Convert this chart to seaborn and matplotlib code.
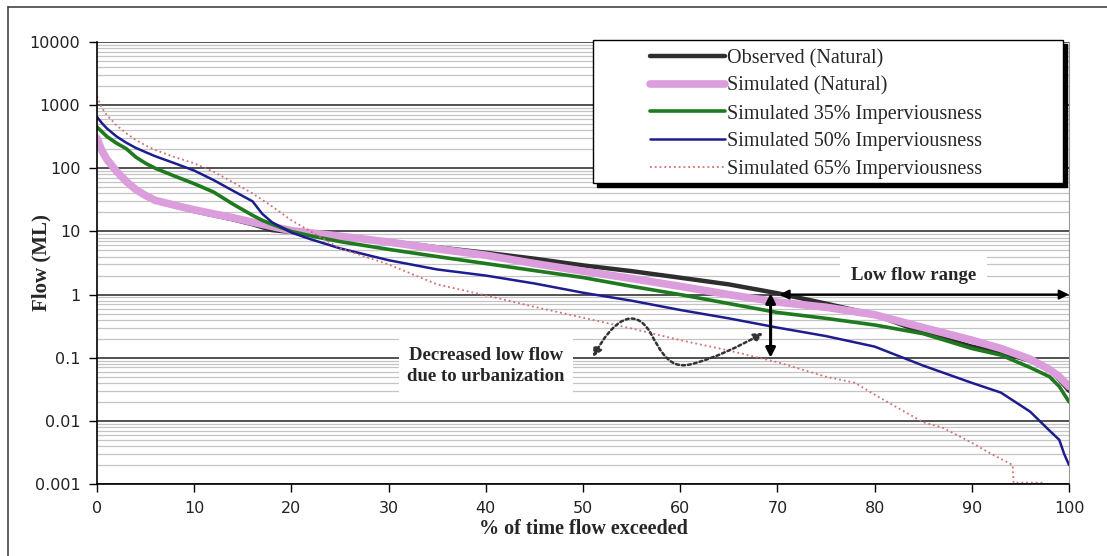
import numpy as np
import pandas as pd
import seaborn as sns
import matplotlib.pyplot as plt
from matplotlib.patches import Rectangle, FancyArrowPatch
from matplotlib.path import Path
from matplotlib.lines import Line2D
from matplotlib.ticker import FixedLocator, LogLocator, NullFormatter

# flow duration curves, % of time flow exceeded vs flow (ML)
obs_x = [0, 0.5, 1, 2, 3, 4, 5, 6, 8, 10, 12, 14, 16, 18, 20, 22, 25, 30, 35, 40, 45, 50,
         55, 60, 65, 70, 75, 80, 85, 90, 93, 96, 98, 99, 100]
obs_y = [280, 180, 130, 85, 60, 45, 36, 30, 25, 21, 18, 15.5, 13, 10.5, 9.8, 9.3, 8.3, 7.0,
         5.6, 4.6, 3.7, 2.9, 2.35, 1.85, 1.45, 1.05, 0.72, 0.48, 0.25, 0.15, 0.12, 0.09,
         0.065, 0.045, 0.03]

nat_x = [0, 0.5, 1, 2, 3, 4, 5, 6, 8, 10, 12, 14, 16, 18, 20, 22, 25, 30, 35, 40, 45, 50,
         55, 60, 65, 70, 75, 80, 85, 90, 93, 96, 98, 99, 100]
nat_y = [300, 190, 140, 90, 62, 46, 37, 31, 26, 22, 19, 16.5, 14, 12, 10.3, 9.5, 8.4, 6.8,
         5.3, 4.2, 3.1, 2.35, 1.8, 1.35, 1.0, 0.76, 0.63, 0.48, 0.3, 0.19, 0.14, 0.095,
         0.065, 0.05, 0.035]

imp35_x = [0, 0.5, 1, 2, 3, 4, 5, 6, 8, 10, 12, 14, 16, 17, 18, 20, 22, 25, 30, 35, 40, 45,
           50, 55, 60, 65, 70, 75, 80, 85, 90, 93, 96, 98, 99, 100]
imp35_y = [450, 380, 320, 250, 205, 150, 120, 100, 75, 57, 42, 27, 18, 15, 13, 10, 8.5, 6.9,
           5.2, 4.0, 3.1, 2.4, 1.86, 1.35, 1.0, 0.72, 0.52, 0.42, 0.33, 0.24, 0.14, 0.11,
           0.07, 0.05, 0.035, 0.02]

imp50_x = [0, 0.5, 1, 2, 3, 4, 5, 6, 8, 10, 12, 14, 16, 17, 18, 20, 22, 25, 30, 35, 40, 45,
           50, 55, 60, 65, 70, 75, 80, 85, 90, 93, 96, 98, 99, 99.5, 100]
imp50_y = [650, 520, 430, 320, 255, 210, 180, 155, 120, 92, 65, 44, 30, 19, 14, 9.6, 7.5,
           5.4, 3.5, 2.5, 2.0, 1.5, 1.07, 0.8, 0.57, 0.42, 0.3, 0.22, 0.15, 0.075, 0.04,
           0.028, 0.014, 0.007, 0.005, 0.003, 0.002]

imp65_x = [0, 0.5, 1, 2, 3, 4, 5, 6, 8, 10, 12, 14, 16, 18, 20, 22, 25, 30, 35, 40, 45, 50,
           55, 60, 65, 70, 75, 78, 80, 85, 87, 90, 92, 94.2, 94.3, 97.5]
imp65_y = [1380, 900, 700, 480, 360, 280, 230, 195, 150, 120, 88, 60, 40, 25, 15, 10, 5.4,
           3.0, 1.45, 0.97, 0.64, 0.43, 0.29, 0.19, 0.13, 0.085, 0.05, 0.04, 0.026, 0.0095,
           0.0078, 0.0045, 0.003, 0.002, 0.00105, 0.00105]

labels = ['Observed (Natural)', 'Simulated (Natural)', 'Simulated 35% Imperviousness',
          'Simulated 50% Imperviousness', 'Simulated 65% Imperviousness']
x_ticks = [0, 10, 20, 30, 40, 50, 60, 70, 80, 90, 100]
y_ticks = [0.001, 0.01, 0.1, 1, 10, 100, 1000, 10000]
y_ticklabels = ['0.001', '0.01', '0.1', '1', '10', '100', '1000', '10000']

sns.set_style('white')
plt.rcParams['font.family'] = ['DejaVu Sans']
serif = ['Liberation Serif', 'DejaVu Serif']

fig = plt.figure(figsize=(11.07, 5.56), dpi=100)
ax = fig.add_axes([97 / 1107, 72 / 556, 972 / 1107, 442 / 556])

sns.lineplot(x=obs_x, y=obs_y, ax=ax, color='#2e2e2e', lw=3.2, label=labels[0],
             estimator=None, sort=False)
sns.lineplot(x=nat_x, y=nat_y, ax=ax, color='#dc9ddc', lw=5.5, label=labels[1],
             estimator=None, sort=False)
sns.lineplot(x=imp35_x, y=imp35_y, ax=ax, color='#1f7a1f', lw=2.6, label=labels[2],
             estimator=None, sort=False)
sns.lineplot(x=imp50_x, y=imp50_y, ax=ax, color='#1d1d8f', lw=1.8, label=labels[3],
             estimator=None, sort=False)
sns.lineplot(x=imp65_x, y=imp65_y, ax=ax, color='#d07070', lw=1.3, ls=':', label=labels[4],
             estimator=None, sort=False)

ax.set_yscale('log')
ax.set_xlim(0, 100)
ax.set_ylim(0.001, 10000)
ax.set_xticks(x_ticks)
ax.set_xticklabels([str(t) for t in x_ticks])
ax.yaxis.set_major_locator(FixedLocator(y_ticks))
ax.set_yticklabels(y_ticklabels)
ax.yaxis.set_minor_locator(LogLocator(base=10, subs=np.arange(2, 10), numticks=20))
ax.yaxis.set_minor_formatter(NullFormatter())
ax.tick_params(axis='both', which='major', direction='out', length=6, width=1,
               color='black', labelsize=11.5, labelcolor='#222222', pad=6, left=True, bottom=True)
ax.tick_params(axis='y', which='minor', length=0)

ax.set_axisbelow(True)
ax.grid(which='major', axis='y', color='#222222', lw=1.1)
ax.grid(which='minor', axis='y', color='#c4c4c4', lw=0.9)
ax.grid(which='both', axis='x', visible=False)
for side in ['left', 'bottom']:
    ax.spines[side].set_color('black')
    ax.spines[side].set_linewidth(1.2)
ax.spines['top'].set_visible(False)
ax.spines['right'].set_color('#999999')
ax.spines['right'].set_linewidth(0.8)

ax.set_xlabel('% of time flow exceeded', fontsize=14.5, fontweight='bold', family=serif)
ax.set_ylabel('Flow (ML)', fontsize=15, fontweight='bold', family=serif)
ax.xaxis.set_label_coords(0.5, -0.08)
ax.yaxis.set_label_coords(-0.047, 0.5)

# annotations
ax.text(84, 2.0, 'Low flow range', ha='center', va='center', fontsize=13.5,
        fontweight='bold', family=serif, zorder=1.5,
        bbox=dict(boxstyle='square,pad=0.6', fc='white', ec='none'))
ax.text(40, 0.075, 'Decreased low flow\ndue to urbanization', ha='center', va='center',
        fontsize=13.5, fontweight='bold', family=serif, linespacing=1.3, zorder=1.5,
        bbox=dict(boxstyle='square,pad=0.45', fc='white', ec='none'))
ax.annotate('', xy=(100, 1.0), xytext=(70.2, 1.0),
            arrowprops=dict(arrowstyle='<|-|>', color='black', lw=1.6,
                            mutation_scale=14, shrinkA=0, shrinkB=0))
ax.annotate('', xy=(69.3, 0.1), xytext=(69.3, 1.05),
            arrowprops=dict(arrowstyle='<|-|>', color='black', lw=2.2,
                            mutation_scale=14, shrinkA=0, shrinkB=0))

def frac(px, py):
    return ((px - 97) / 972, (484 - py) / 442)

wave = [frac(593, 357), frac(613, 320), frac(634, 306), frac(650, 332),
        frac(662, 354), frac(670, 370), frac(692, 364),
        frac(715, 358), frac(740, 346), frac(763, 333)]
codes = [Path.MOVETO] + [Path.CURVE4] * 9
ax.add_patch(FancyArrowPatch(path=Path(wave, codes), arrowstyle='<|-|>', ls=(0, (1.2, 1.2)),
                             color='#333333', lw=1.8, mutation_scale=13,
                             transform=ax.transAxes, zorder=3))

# legend box with shadow
x0, y0 = frac(593, 183)
x1, y1 = frac(1063, 40)
dx, dy = 4 / 972, -4 / 442
ax.add_patch(Rectangle((x0 + dx, y0 + dy), x1 - x0, y1 - y0, transform=ax.transAxes,
                       fc='black', ec='black', clip_on=False, zorder=4))
ax.add_patch(Rectangle((x0, y0), x1 - x0, y1 - y0, transform=ax.transAxes,
                       fc='white', ec='black', lw=1, clip_on=False, zorder=4.1))
ax.legend(loc='upper left', bbox_to_anchor=frac(650, 49), frameon=False,
          prop={'family': serif, 'size': 14.5}, handlelength=3.7, handletextpad=0.12,
          labelspacing=0.42, borderpad=0, borderaxespad=0).set_zorder(5)

# outer frame (left and top visible)
fig.add_artist(Line2D([8 / 1107, 8 / 1107], [0, 1 - 7 / 556], transform=fig.transFigure,
                      color='#444444', lw=1.2))
fig.add_artist(Line2D([8 / 1107, 1], [1 - 7 / 556, 1 - 7 / 556], transform=fig.transFigure,
                      color='#444444', lw=1.2))

fig.savefig('out.png', dpi=100)
